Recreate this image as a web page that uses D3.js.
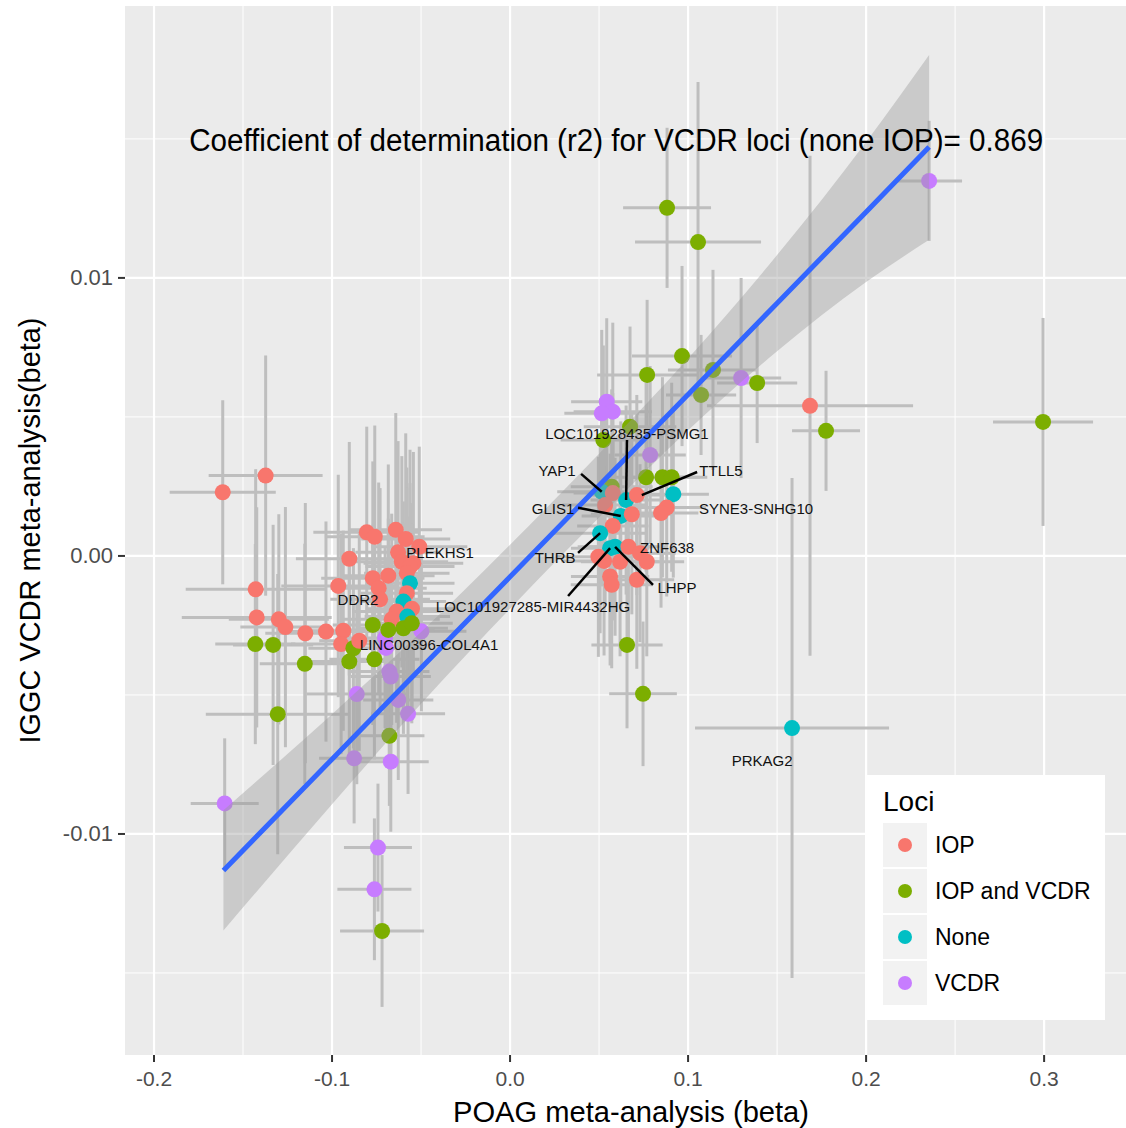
<!DOCTYPE html>
<html>
<head>
<meta charset="utf-8">
<script src="https://cdn.jsdelivr.net/npm/d3@7"></script>
<style>
  body { margin: 0; background: #fff; }
  text { font-family: "Liberation Sans", Arial, Helvetica, sans-serif; }
</style>
</head>
<body>
<div id="chart"></div>
<script>
// loci groups and ggplot default hue colours
const LOCI = ["IOP", "IOP and VCDR", "None", "VCDR"];
const LOCI_COLORS = ["#F8766D", "#7CAE00", "#00BFC4", "#C77CFF"];

// x: POAG beta, y: IGGC VCDR beta, half-widths of the error bars, group
const poagBeta = [
  0.2354, 0.0882, 0.1056, 0.0966, 0.0770, 0.1140, 0.1298, 0.1388, 0.1073, 0.1685,
  0.1775, 0.2994, 0.1584, -0.1373, -0.1614, -0.1429, -0.1423, -0.1431, -0.1331, -0.1299,
  -0.1262, -0.1150, -0.1153, -0.1034, -0.0937, -0.0949, -0.0880, -0.0847, -0.0903, -0.0762,
  -0.0771, -0.0702, -0.0697, -0.0498, -0.0678, -0.0670, -0.0861, -0.0628, -0.0573, -0.1305,
  -0.0678, -0.0876, -0.0670, -0.1603, -0.0742, -0.0762, -0.0719,
  -0.0805, -0.0760, -0.0642, -0.0586, -0.0510, -0.0629, -0.0903, -0.0608, -0.0543, -0.0562,
  -0.0580, -0.0684, -0.0771, -0.0738, -0.0965, -0.0562, -0.0580, -0.0730, -0.0599, -0.0551,
  -0.0637, -0.0665, -0.0577, -0.0599, -0.0552, -0.0684,
  0.0543, 0.0577, 0.0515, 0.0524, 0.0674, 0.0787, 0.0764, 0.0856, 0.0908, 0.0571,
  0.0515, 0.0577, 0.0652, 0.0712, 0.0917, 0.0880, 0.0848, 0.0534, 0.0622, 0.0684,
  0.0577, 0.0506, 0.0562, 0.0590, 0.0496, 0.0665, 0.0730, 0.0768, 0.0562, 0.0571,
  0.0712, 0.0618, 0.0657, 0.0747, 0.0528
];
const vcdrBeta = [
  0.01349, 0.01252, 0.01129, 0.00719, 0.00651, 0.00669, 0.00640, 0.00622, 0.00579, 0.00540,
  0.00450, 0.00482, -0.00619, 0.00289, 0.00229, -0.00120, -0.00221, -0.00317, -0.00320, -0.00228,
  -0.00256, -0.00278, -0.00388, -0.00272, -0.00269, -0.00317, -0.00332, -0.00305, -0.00380, -0.00372,
  -0.00248, -0.00295, -0.00331, -0.00271, -0.00416, -0.00434, -0.00497, -0.00518, -0.00568, -0.00569,
  -0.00647, -0.00728, -0.00740, -0.00890, -0.01049, -0.01199, -0.01349,
  0.00085, 0.00069, 0.00094, 0.00061, 0.00033, 0.00013, -0.00010, -0.00021, -0.00026, -0.00038,
  -0.00062, -0.00071, -0.00080, -0.00116, -0.00108, -0.00098, -0.00134, -0.00156, -0.00164, -0.00190,
  -0.00200, -0.00228, -0.00218, -0.00260, -0.00242, -0.00266,
  0.00555, 0.00519, 0.00513, 0.00417, 0.00465, 0.00363, 0.00283, 0.00283, 0.00283, 0.00249,
  0.00231, 0.00226, 0.00201, 0.00219, 0.00222, 0.00174, 0.00154, 0.00183, 0.00144, 0.00150,
  0.00108, 0.00082, 0.00028, 0.00033, -0.00003, 0.00033, 0.00010, -0.00021, -0.00074, -0.00104,
  -0.00086, -0.00021, -0.00320, -0.00496, -0.00018
];
const poagErr = [
  0.0185, 0.0247, 0.0354, 0.0281, 0.0281, 0.0253, 0.0225, 0.0225, 0.0197, 0.0579,
  0.0191, 0.0281, 0.0545, 0.0320, 0.0298, 0.0393, 0.0421, 0.0225, 0.0225, 0.0281,
  0.0253, 0.0225, 0.0253, 0.0253, 0.0225, 0.0281, 0.0253, 0.0225, 0.0225, 0.0253,
  0.0225, 0.0225, 0.0225, 0.0253, 0.0225, 0.0225, 0.0281, 0.0197, 0.0208, 0.0404,
  0.0197, 0.0197, 0.0213, 0.0191, 0.0191, 0.0208, 0.0236,
  0.0300, 0.0280, 0.0260, 0.0250, 0.0270, 0.0240, 0.0300, 0.0260, 0.0280, 0.0250,
  0.0240, 0.0260, 0.0290, 0.0270, 0.0320, 0.0250, 0.0260, 0.0280, 0.0240, 0.0260,
  0.0250, 0.0270, 0.0240, 0.0250, 0.0230, 0.0260,
  0.0200, 0.0220, 0.0210, 0.0240, 0.0260, 0.0200, 0.0220, 0.0210, 0.0200, 0.0230,
  0.0250, 0.0220, 0.0200, 0.0250, 0.0200, 0.0220, 0.0210, 0.0240, 0.0220, 0.0230,
  0.0200, 0.0260, 0.0220, 0.0210, 0.0240, 0.0220, 0.0200, 0.0210, 0.0220, 0.0230,
  0.0210, 0.0220, 0.0200, 0.0190, 0.0240
];
const vcdrErr = [
  0.00216, 0.00288, 0.00576, 0.00324, 0.00270, 0.00360, 0.00360, 0.00216, 0.00216, 0.00899,
  0.00216, 0.00374, 0.00899, 0.00432, 0.00331, 0.00432, 0.00396, 0.00360, 0.00432, 0.00378,
  0.00432, 0.00468, 0.00432, 0.00396, 0.00360, 0.00396, 0.00360, 0.00396, 0.00342, 0.00360,
  0.00360, 0.00324, 0.00324, 0.00288, 0.00324, 0.00324, 0.00324, 0.00288, 0.00288, 0.00504,
  0.00252, 0.00234, 0.00252, 0.00234, 0.00230, 0.00255, 0.00273,
  0.00380, 0.00400, 0.00420, 0.00380, 0.00360, 0.00400, 0.00420, 0.00380, 0.00400, 0.00420,
  0.00380, 0.00400, 0.00420, 0.00380, 0.00400, 0.00360, 0.00380, 0.00400, 0.00360, 0.00380,
  0.00400, 0.00380, 0.00360, 0.00380, 0.00360, 0.00400,
  0.00300, 0.00320, 0.00300, 0.00340, 0.00360, 0.00320, 0.00340, 0.00360, 0.00340, 0.00350,
  0.00340, 0.00360, 0.00340, 0.00360, 0.00300, 0.00320, 0.00340, 0.00360, 0.00340, 0.00360,
  0.00340, 0.00360, 0.00340, 0.00320, 0.00360, 0.00340, 0.00320, 0.00340, 0.00320, 0.00300,
  0.00320, 0.00340, 0.00300, 0.00260, 0.00340
];
const lociGroup = [
  "VCDR", "IOP and VCDR", "IOP and VCDR", "IOP and VCDR", "IOP and VCDR", "IOP and VCDR", "VCDR", "IOP and VCDR", "IOP and VCDR", "IOP",
  "IOP and VCDR", "IOP and VCDR", "None", "IOP", "IOP", "IOP", "IOP", "IOP and VCDR", "IOP and VCDR", "IOP",
  "IOP", "IOP", "IOP and VCDR", "IOP", "IOP", "IOP", "IOP and VCDR", "IOP", "IOP and VCDR", "IOP and VCDR",
  "IOP and VCDR", "VCDR", "VCDR", "VCDR", "VCDR", "VCDR", "VCDR", "VCDR", "VCDR", "IOP and VCDR",
  "IOP and VCDR", "VCDR", "VCDR", "VCDR", "VCDR", "VCDR", "IOP and VCDR",
  "IOP", "IOP", "IOP", "IOP", "IOP", "IOP", "IOP", "IOP", "IOP", "IOP",
  "IOP", "IOP", "IOP", "IOP", "IOP", "None", "IOP", "IOP", "None", "IOP",
  "IOP", "IOP", "None", "IOP and VCDR", "IOP and VCDR", "IOP and VCDR",
  "VCDR", "VCDR", "VCDR", "IOP and VCDR", "IOP and VCDR", "VCDR", "IOP and VCDR", "IOP and VCDR", "IOP and VCDR", "IOP and VCDR",
  "None", "IOP", "None", "IOP", "None", "IOP", "IOP", "IOP", "None", "IOP",
  "IOP", "None", "None", "None", "IOP", "IOP", "IOP", "IOP", "IOP", "IOP",
  "IOP", "IOP", "IOP and VCDR", "IOP and VCDR", "IOP"
];

// linear fit and its confidence band, read at these x positions
const fitX  = [-0.161, -0.1, -0.05, 0, 0.05, 0.1, 0.15, 0.2, 0.2354];
const fitY  = [-0.01131, -0.00731, -0.00403, -0.00075, 0.00253, 0.00581, 0.00909, 0.01237, 0.01471];
const bandLo = [-0.01347, -0.00893, -0.00532, -0.00190, 0.00138, 0.00452, 0.00736, 0.00985, 0.01137];
const bandHi = [-0.00915, -0.00569, -0.00274, 0.00040, 0.00368, 0.00710, 0.01082, 0.01489, 0.01802];

// gene labels: text centre and (optional) segment start, target point
const labelText = ["PLEKHS1", "DDR2", "LINC00396-COL4A1", "LOC101928435-PSMG1", "YAP1", "TTLL5", "GLIS1",
  "SYNE3-SNHG10", "ZNF638", "THRB", "LHPP", "LOC101927285-MIR4432HG", "PRKAG2"];
const labelX = [-0.0393, -0.0854, -0.0455, 0.0657, 0.0264, 0.1185, 0.0242, 0.1382, 0.0882, 0.0253, 0.0938, 0.0129, 0.1416];
const labelY = [0.00011, -0.00158, -0.00320, 0.00442, 0.00306, 0.00306, 0.00169, 0.00169, 0.00029, -0.00004, -0.00115, -0.00183, -0.00734];
const segFrom = [null, null, null, [0.0657, 0.00417], [0.0399, 0.00295], [0.1051, 0.00302], [0.0382, 0.00173],
  null, null, [0.0382, 0.00011], [0.0803, -0.00104], [0.0326, -0.00144], null];
const segTo = [null, null, null, [0.0652, 0.00201], [0.0515, 0.00231], [0.0740, 0.00219], [0.0622, 0.00144],
  null, null, [0.0506, 0.00082], [0.0590, 0.00033], [0.0562, 0.00028], null];

const xTicks = [-0.2, -0.1, 0.0, 0.1, 0.2, 0.3];
const xTickLabels = ["-0.2", "-0.1", "0.0", "0.1", "0.2", "0.3"];
const yTicks = [-0.01, 0.0, 0.01];
const yTickLabels = ["-0.01", "0.00", "0.01"];
const xMinor = [-0.15, -0.05, 0.05, 0.15, 0.25];
const yMinor = [-0.015, -0.005, 0.005, 0.015];

const TITLE = "Coefficient of determination (r2) for VCDR loci (none IOP)= 0.869";
const TITLE_POS = [0.0596, 0.01496];

const WIDTH = 1126, HEIGHT = 1128;
const PANEL = { left: 125, right: 1126, top: 6, bottom: 1055 };

const xScale = d3.scaleLinear().domain([-0.2163, 0.346]).range([PANEL.left, PANEL.right]);
const yScale = d3.scaleLinear().domain([-0.01795, 0.01978]).range([PANEL.bottom, PANEL.top]);
const colorScale = d3.scaleOrdinal().domain(LOCI).range(LOCI_COLORS);

const data = poagBeta.map((x, i) => ({
  x, y: vcdrBeta[i], ex: poagErr[i], ey: vcdrErr[i], group: lociGroup[i]
}));

const svg = d3.select("#chart").append("svg")
  .attr("width", WIDTH).attr("height", HEIGHT);

svg.append("defs").append("clipPath").attr("id", "panel-clip")
  .append("rect")
  .attr("x", PANEL.left).attr("y", PANEL.top)
  .attr("width", PANEL.right - PANEL.left).attr("height", PANEL.bottom - PANEL.top);

svg.append("rect")
  .attr("x", PANEL.left).attr("y", PANEL.top)
  .attr("width", PANEL.right - PANEL.left).attr("height", PANEL.bottom - PANEL.top)
  .attr("fill", "#EBEBEB");

// grid
const grid = svg.append("g");
grid.selectAll(".vminor").data(xMinor).join("line")
  .attr("x1", d => xScale(d)).attr("x2", d => xScale(d))
  .attr("y1", PANEL.top).attr("y2", PANEL.bottom)
  .attr("stroke", "#fff").attr("stroke-width", 1);
grid.selectAll(".hminor").data(yMinor).join("line")
  .attr("y1", d => yScale(d)).attr("y2", d => yScale(d))
  .attr("x1", PANEL.left).attr("x2", PANEL.right)
  .attr("stroke", "#fff").attr("stroke-width", 1);
grid.selectAll(".vmajor").data(xTicks).join("line")
  .attr("x1", d => xScale(d)).attr("x2", d => xScale(d))
  .attr("y1", PANEL.top).attr("y2", PANEL.bottom)
  .attr("stroke", "#fff").attr("stroke-width", 2.2);
grid.selectAll(".hmajor").data(yTicks).join("line")
  .attr("y1", d => yScale(d)).attr("y2", d => yScale(d))
  .attr("x1", PANEL.left).attr("x2", PANEL.right)
  .attr("stroke", "#fff").attr("stroke-width", 2.2);

const plot = svg.append("g").attr("clip-path", "url(#panel-clip)");

// error bars
const bars = plot.append("g").attr("stroke", "#BEBEBE").attr("stroke-width", 3);
bars.selectAll(".ev").data(data).join("line")
  .attr("x1", d => xScale(d.x)).attr("x2", d => xScale(d.x))
  .attr("y1", d => yScale(d.y - d.ey)).attr("y2", d => yScale(d.y + d.ey));
bars.selectAll(".eh").data(data).join("line")
  .attr("y1", d => yScale(d.y)).attr("y2", d => yScale(d.y))
  .attr("x1", d => xScale(d.x - d.ex)).attr("x2", d => xScale(d.x + d.ex));

// points
plot.append("g").selectAll("circle").data(data).join("circle")
  .attr("cx", d => xScale(d.x)).attr("cy", d => yScale(d.y))
  .attr("r", 8)
  .attr("fill", d => colorScale(d.group));

// smooth band + line
const band = fitX.map((x, i) => ({ x, lo: bandLo[i], hi: bandHi[i], y: fitY[i] }));
plot.append("path").datum(band)
  .attr("d", d3.area().x(d => xScale(d.x)).y0(d => yScale(d.lo)).y1(d => yScale(d.hi)).curve(d3.curveMonotoneX))
  .attr("fill", "#999999").attr("fill-opacity", 0.4);
plot.append("path").datum(band)
  .attr("d", d3.line().x(d => xScale(d.x)).y(d => yScale(d.y)))
  .attr("fill", "none").attr("stroke", "#3366FF").attr("stroke-width", 5);

// label segments and labels
const labels = labelText.map((t, i) => ({ t, x: labelX[i], y: labelY[i], from: segFrom[i], to: segTo[i] }));
plot.append("g").selectAll("line").data(labels.filter(d => d.from)).join("line")
  .attr("x1", d => xScale(d.from[0])).attr("y1", d => yScale(d.from[1]))
  .attr("x2", d => xScale(d.to[0])).attr("y2", d => yScale(d.to[1]))
  .attr("stroke", "#000").attr("stroke-width", 2.5);
plot.append("g").selectAll("text").data(labels).join("text")
  .attr("x", d => xScale(d.x)).attr("y", d => yScale(d.y))
  .attr("text-anchor", "middle").attr("dominant-baseline", "central")
  .attr("font-size", 15).attr("fill", "#111")
  .text(d => d.t);

// r2 annotation
plot.append("text")
  .attr("x", xScale(TITLE_POS[0])).attr("y", yScale(TITLE_POS[1]))
  .attr("text-anchor", "middle").attr("dominant-baseline", "central")
  .attr("font-size", 31).attr("fill", "#000")
  .attr("textLength", 854).attr("lengthAdjust", "spacingAndGlyphs")
  .text(TITLE);

// axes
const xAxis = svg.append("g");
xAxis.selectAll("line").data(xTicks).join("line")
  .attr("x1", d => xScale(d)).attr("x2", d => xScale(d))
  .attr("y1", PANEL.bottom).attr("y2", PANEL.bottom + 7)
  .attr("stroke", "#333").attr("stroke-width", 2);
xAxis.selectAll("text").data(xTicks).join("text")
  .attr("x", d => xScale(d)).attr("y", PANEL.bottom + 31)
  .attr("text-anchor", "middle").attr("font-size", 21).attr("fill", "#4D4D4D")
  .text((d, i) => xTickLabels[i]);

const yAxis = svg.append("g");
yAxis.selectAll("line").data(yTicks).join("line")
  .attr("y1", d => yScale(d)).attr("y2", d => yScale(d))
  .attr("x1", PANEL.left - 7).attr("x2", PANEL.left)
  .attr("stroke", "#333").attr("stroke-width", 2);
yAxis.selectAll("text").data(yTicks).join("text")
  .attr("x", PANEL.left - 12).attr("y", d => yScale(d))
  .attr("text-anchor", "end").attr("dominant-baseline", "central")
  .attr("font-size", 22).attr("fill", "#4D4D4D")
  .text((d, i) => yTickLabels[i]);

svg.append("text")
  .attr("x", 631).attr("y", 1122)
  .attr("text-anchor", "middle").attr("font-size", 29).attr("fill", "#000")
  .attr("textLength", 356).attr("lengthAdjust", "spacingAndGlyphs")
  .text("POAG meta-analysis (beta)");
svg.append("text")
  .attr("transform", `translate(40, ${(PANEL.top + PANEL.bottom) / 2}) rotate(-90)`)
  .attr("text-anchor", "middle").attr("font-size", 29).attr("fill", "#000")
  .attr("textLength", 426).attr("lengthAdjust", "spacingAndGlyphs")
  .text("IGGC VCDR meta-analysis(beta)");

// legend
const legend = svg.append("g").attr("transform", "translate(867, 775)");
legend.append("rect").attr("width", 238).attr("height", 245).attr("fill", "#fff");
legend.append("text").attr("x", 16).attr("y", 36).attr("font-size", 28).attr("fill", "#000").text("Loci");
const keys = legend.selectAll(".key").data(LOCI).join("g")
  .attr("transform", (d, i) => `translate(16, ${48 + i * 46})`);
keys.append("rect").attr("width", 44).attr("height", 44).attr("fill", "#F2F2F2");
keys.append("circle").attr("cx", 22).attr("cy", 22).attr("r", 7).attr("fill", d => colorScale(d));
keys.append("text").attr("x", 52).attr("y", 22).attr("dominant-baseline", "central")
  .attr("font-size", 23).attr("fill", "#000").text(d => d);
</script>
</body>
</html>
